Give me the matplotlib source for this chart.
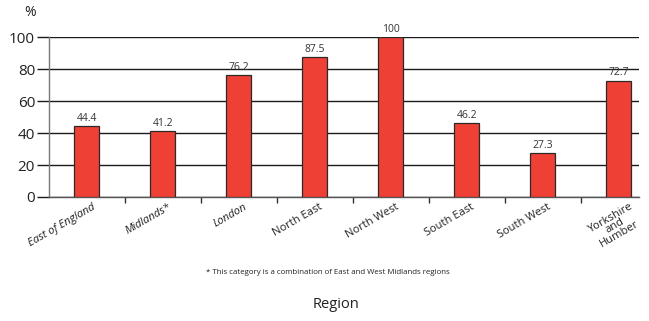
import matplotlib.pyplot as plt
import numpy as np

plt.rcParams['font.family'] = ['Open Sans', 'DejaVu Sans']

# Percentage by region
regions = ['East of England', 'Midlands*', 'London', 'North East', 'North West',
           'South East', 'South West', 'Yorkshire\nand\nHumber']
values = [44.4, 41.2, 76.2, 87.5, 100, 46.2, 27.3, 72.7]
italic_regions = ['East of England', 'Midlands*', 'London']
y_ticks = [0, 20, 40, 60, 80, 100]

fig = plt.figure(figsize=(6.49, 3.21), dpi=100)
ax = fig.add_axes([0.0755, 0.3863, 0.9091, 0.4984])

x = np.arange(len(regions))
ax.bar(x, values, width=0.33, color='#EE4035', edgecolor='#2a2a2a',
       linewidth=0.9, zorder=3)

# value labels above each bar
for xi, v in zip(x, values):
    ax.text(xi, v + 1.5, f'{v:g}', ha='center', va='bottom', fontsize=7.5,
            color='#333333')

ax.set_xlim(-0.5, 7.27)
ax.set_ylim(0, 100)
ax.set_yticks(y_ticks)
ax.yaxis.grid(True, color='#1a1a1a', linewidth=1.0, zorder=0)
ax.tick_params(axis='y', length=9, width=1.0, color='#1a1a1a',
               labelsize=11, pad=1, labelcolor='#222222')

# category boundary ticks on the x axis
ax.set_xticks(np.arange(0.5, 7.5, 1.0))
ax.set_xticklabels([])
ax.tick_params(axis='x', length=4, width=1.0, color='#333333')

for xi, name in zip(x, regions):
    style = 'italic' if name in italic_regions else 'normal'
    if '\n' in name:
        ax.text(xi - 0.05, -18, name, rotation=30, rotation_mode='anchor',
                ha='center', va='center', fontsize=8, style=style,
                color='#222222', linespacing=0.75)
    else:
        ax.text(xi + 0.06, -3, name, rotation=30, rotation_mode='anchor',
                ha='right', va='top', fontsize=8, style=style,
                color='#222222')

for side in ['top', 'right']:
    ax.spines[side].set_visible(False)
ax.spines['left'].set_color('#777777')
ax.spines['left'].set_linewidth(1.0)
ax.spines['bottom'].set_color('#555555')
ax.spines['bottom'].set_linewidth(1.0)

fig.text(30 / 649, 1 - 13 / 321, '%', ha='center', va='center', fontsize=10,
         color='#222222')
fig.text(328 / 649, 1 - 272 / 321,
         '* This category is a combination of East and West Midlands regions',
         ha='center', va='center', fontsize=5.7, color='#222222')
fig.text(336 / 649, 1 - 304 / 321, 'Region', ha='center', va='center',
         fontsize=10.5, color='#222222')

fig.savefig('out.png', dpi=100)
